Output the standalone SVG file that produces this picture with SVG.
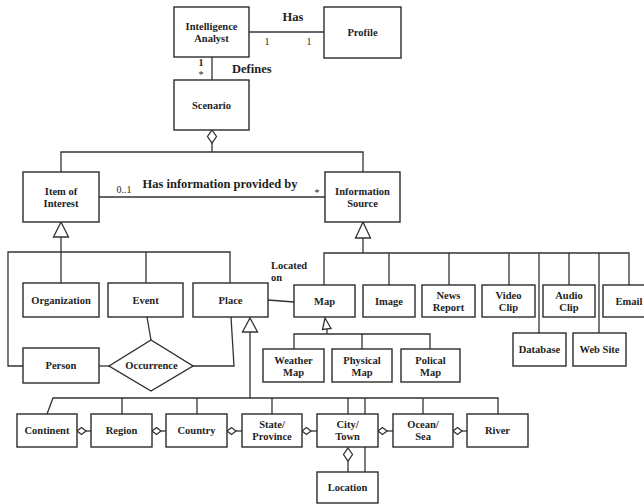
<svg xmlns="http://www.w3.org/2000/svg" width="644" height="504" viewBox="0 0 644 504">
  <style>
    .box { fill: #ffffff; stroke: #2b2b2b; stroke-width: 1.4; }
    .ln { fill: none; stroke: #333333; stroke-width: 1.3; }
    .hollow { fill: #ffffff; stroke: #333333; stroke-width: 1.3; }
    .lbl { font-family: "Liberation Serif", "Times New Roman", serif; font-weight: bold; font-size: 10.5px; fill: #1e1e1e; text-anchor: middle; }
    .lbl-left { font-family: "Liberation Serif", "Times New Roman", serif; font-weight: bold; font-size: 10.5px; fill: #1e1e1e; text-anchor: start; }
    .big { font-family: "Liberation Serif", "Times New Roman", serif; font-weight: bold; font-size: 12.5px; fill: #1e1e1e; }
    .mult { font-family: "Liberation Serif", "Times New Roman", serif; font-size: 10px; fill: #1e1e1e; text-anchor: middle; }
  </style>
  <rect x="0" y="0" width="644" height="504" fill="#ffffff"/>

  <!-- connectors -->
  <g id="connectors">
    <!-- Has -->
    <line class="ln" x1="249" y1="32" x2="324" y2="32"/>
    <text class="big" x="293" y="21" text-anchor="middle">Has</text>
    <text class="mult" x="267" y="45">1</text>
    <text class="mult" x="309" y="45">1</text>
    <!-- Defines -->
    <line class="ln" x1="212" y1="57" x2="212" y2="80"/>
    <text class="mult" x="201" y="66" font-weight="bold">1</text>
    <text class="mult" x="201" y="77.5">*</text>
    <text class="big" x="232" y="73">Defines</text>
    <!-- Scenario aggregation -->
    <polygon class="hollow" points="212,130 216.5,136.5 212,143 207.5,136.5"/>
    <polyline class="ln" points="212,143 212,152"/>
    <polyline class="ln" points="61,172 61,152 363,152 363,172"/>
    <!-- Has information provided by -->
    <line class="ln" x1="99" y1="197" x2="325" y2="197"/>
    <text class="big" x="220" y="188" text-anchor="middle">Has information provided by</text>
    <text class="mult" x="124" y="193">0..1</text>
    <text class="mult" x="317" y="195.5">*</text>
    <!-- Item of Interest generalization -->
    <polygon class="hollow" points="61,222 68.5,237 53.5,237"/>
    <line class="ln" x1="61" y1="237" x2="61" y2="283"/>
    <polyline class="ln" points="23,366 8,366 8,252 230,252 230,283"/>
    <line class="ln" x1="146" y1="252" x2="146" y2="283"/>
    <!-- Occurrence links -->
    <line class="ln" x1="99" y1="366" x2="109" y2="366"/>
    <line class="ln" x1="147" y1="317" x2="151" y2="340"/>
    <polyline class="ln" points="231,317 234,366 193,366"/>
    <!-- Located on -->
    <line class="ln" x1="268" y1="300" x2="294" y2="302"/>
    <text class="lbl-left" x="271" y="269">Located</text>
    <text class="lbl-left" x="271" y="280.5">on</text>
    <!-- Place generalization -->
    <polygon class="hollow" points="250,318 257.5,332 242.5,332"/>
    <line class="ln" x1="250" y1="332" x2="250" y2="398"/>
    <polyline class="ln" points="47,414 53,398 498,398 498,414"/>
    <line class="ln" x1="122" y1="398" x2="122" y2="414"/>
    <line class="ln" x1="197" y1="398" x2="197" y2="414"/>
    <line class="ln" x1="272" y1="398" x2="272" y2="414"/>
    <line class="ln" x1="348" y1="398" x2="348" y2="414"/>
    <line class="ln" x1="365" y1="398" x2="365" y2="414"/>
    <line class="ln" x1="423" y1="398" x2="423" y2="414"/>
    <!-- part-of chain -->
    <polygon class="hollow" points="77,431 81.5,427.5 86,431 81.5,434.5"/>
    <line class="ln" x1="86" y1="431" x2="91" y2="431"/>
    <polygon class="hollow" points="152,431 156.5,427.5 161,431 156.5,434.5"/>
    <line class="ln" x1="161" y1="431" x2="166" y2="431"/>
    <polygon class="hollow" points="227,431 231.5,427.5 236,431 231.5,434.5"/>
    <line class="ln" x1="236" y1="431" x2="242" y2="431"/>
    <polygon class="hollow" points="302,431 306.5,427.5 311,431 306.5,434.5"/>
    <line class="ln" x1="311" y1="431" x2="317" y2="431"/>
    <polygon class="hollow" points="378,431 382.5,427.5 387,431 382.5,434.5"/>
    <line class="ln" x1="387" y1="431" x2="393" y2="431"/>
    <polygon class="hollow" points="453,431 457.5,427.5 462,431 457.5,434.5"/>
    <line class="ln" x1="462" y1="431" x2="467" y2="431"/>
    <!-- City/Town to Location -->
    <polygon class="hollow" points="348,448 352.5,454.5 348,461 343.5,454.5"/>
    <line class="ln" x1="348" y1="461" x2="348" y2="472"/>
    <line class="ln" x1="365" y1="447" x2="365" y2="472"/>
    <!-- Information Source generalization -->
    <polygon class="hollow" points="363,222 370.5,238 355.5,238"/>
    <line class="ln" x1="363" y1="238" x2="363" y2="253"/>
    <polyline class="ln" points="324,285 324,253 629,253 629,285"/>
    <line class="ln" x1="389" y1="253" x2="389" y2="285"/>
    <line class="ln" x1="449" y1="253" x2="449" y2="285"/>
    <line class="ln" x1="509" y1="253" x2="509" y2="285"/>
    <line class="ln" x1="539" y1="253" x2="539" y2="333"/>
    <line class="ln" x1="569" y1="253" x2="569" y2="285"/>
    <line class="ln" x1="599" y1="253" x2="599" y2="333"/>
    <!-- Map generalization -->
    <polygon class="hollow" points="325,318 331,328.5 322.5,329.5"/>
    <line class="ln" x1="327" y1="329" x2="327" y2="334"/>
    <polyline class="ln" points="294,349 294,334 430,334 430,349"/>
    <line class="ln" x1="362" y1="334" x2="362" y2="349"/>
  </g>

  <!-- nodes -->
  <g id="intelligence-analyst">
    <rect class="box" x="174" y="7" width="75" height="50"/>
    <text class="lbl" x="211.5" y="29.5">Intelligence</text>
    <text class="lbl" x="211.5" y="42">Analyst</text>
  </g>
  <g id="profile">
    <rect class="box" x="324" y="7" width="77" height="51"/>
    <text class="lbl" x="362.5" y="36">Profile</text>
  </g>
  <g id="scenario">
    <rect class="box" x="174" y="80" width="75" height="50"/>
    <text class="lbl" x="211.5" y="108.5">Scenario</text>
  </g>
  <g id="item-of-interest">
    <rect class="box" x="23" y="172" width="76" height="50"/>
    <text class="lbl" x="61" y="194.5">Item of</text>
    <text class="lbl" x="61" y="207">Interest</text>
  </g>
  <g id="information-source">
    <rect class="box" x="325" y="172" width="75" height="50"/>
    <text class="lbl" x="362.5" y="194.5">Information</text>
    <text class="lbl" x="362.5" y="207">Source</text>
  </g>
  <g id="organization">
    <rect class="box" x="23" y="283" width="76" height="34"/>
    <text class="lbl" x="61" y="303.5">Organization</text>
  </g>
  <g id="event">
    <rect class="box" x="108" y="283" width="75" height="34"/>
    <text class="lbl" x="145.5" y="303.5">Event</text>
  </g>
  <g id="place">
    <rect class="box" x="193" y="283" width="75" height="34"/>
    <text class="lbl" x="230.5" y="303.5">Place</text>
  </g>
  <g id="person">
    <rect class="box" x="23" y="348" width="76" height="35"/>
    <text class="lbl" x="61" y="369">Person</text>
  </g>
  <g id="occurrence">
    <polygon class="box" points="109,366 151,340 193,366 151,391"/>
    <text class="lbl" x="151.5" y="368.5">Occurrence</text>
  </g>
  <g id="map">
    <rect class="box" x="294" y="285" width="61" height="32"/>
    <text class="lbl" x="324.5" y="304.5">Map</text>
  </g>
  <g id="image">
    <rect class="box" x="363" y="285" width="52" height="32"/>
    <text class="lbl" x="389" y="304.5">Image</text>
  </g>
  <g id="news-report">
    <rect class="box" x="422" y="285" width="53" height="32"/>
    <text class="lbl" x="448.5" y="298.5">News</text>
    <text class="lbl" x="448.5" y="310.5">Report</text>
  </g>
  <g id="video-clip">
    <rect class="box" x="482" y="285" width="53" height="32"/>
    <text class="lbl" x="508.5" y="298.5">Video</text>
    <text class="lbl" x="508.5" y="310.5">Clip</text>
  </g>
  <g id="audio-clip">
    <rect class="box" x="543" y="285" width="52" height="32"/>
    <text class="lbl" x="569" y="298.5">Audio</text>
    <text class="lbl" x="569" y="310.5">Clip</text>
  </g>
  <g id="email">
    <rect class="box" x="603" y="285" width="52" height="32"/>
    <text class="lbl" x="629" y="304.5">Email</text>
  </g>
  <g id="database">
    <rect class="box" x="513" y="333" width="53" height="33"/>
    <text class="lbl" x="539.5" y="353">Database</text>
  </g>
  <g id="web-site">
    <rect class="box" x="573" y="333" width="53" height="33"/>
    <text class="lbl" x="599.5" y="353">Web Site</text>
  </g>
  <g id="weather-map">
    <rect class="box" x="263" y="349" width="61" height="33"/>
    <text class="lbl" x="293.5" y="363.5">Weather</text>
    <text class="lbl" x="293.5" y="375.5">Map</text>
  </g>
  <g id="physical-map">
    <rect class="box" x="332" y="349" width="60" height="33"/>
    <text class="lbl" x="362" y="363.5">Physical</text>
    <text class="lbl" x="362" y="375.5">Map</text>
  </g>
  <g id="polical-map">
    <rect class="box" x="401" y="349" width="59" height="33"/>
    <text class="lbl" x="430.5" y="363.5">Polical</text>
    <text class="lbl" x="430.5" y="375.5">Map</text>
  </g>
  <g id="continent">
    <rect class="box" x="17" y="414" width="60" height="33"/>
    <text class="lbl" x="47" y="434">Continent</text>
  </g>
  <g id="region">
    <rect class="box" x="91" y="414" width="61" height="33"/>
    <text class="lbl" x="121.5" y="434">Region</text>
  </g>
  <g id="country">
    <rect class="box" x="166" y="414" width="61" height="33"/>
    <text class="lbl" x="196.5" y="434">Country</text>
  </g>
  <g id="state-province">
    <rect class="box" x="242" y="414" width="60" height="33"/>
    <text class="lbl" x="272" y="428">State/</text>
    <text class="lbl" x="272" y="440">Province</text>
  </g>
  <g id="city-town">
    <rect class="box" x="317" y="414" width="61" height="33"/>
    <text class="lbl" x="347.5" y="428">City/</text>
    <text class="lbl" x="347.5" y="440">Town</text>
  </g>
  <g id="ocean-sea">
    <rect class="box" x="393" y="414" width="60" height="33"/>
    <text class="lbl" x="423" y="428">Ocean/</text>
    <text class="lbl" x="423" y="440">Sea</text>
  </g>
  <g id="river">
    <rect class="box" x="467" y="414" width="61" height="33"/>
    <text class="lbl" x="497.5" y="434">River</text>
  </g>
  <g id="location">
    <rect class="box" x="317" y="472" width="61" height="31"/>
    <text class="lbl" x="347.5" y="491">Location</text>
  </g>
</svg>
